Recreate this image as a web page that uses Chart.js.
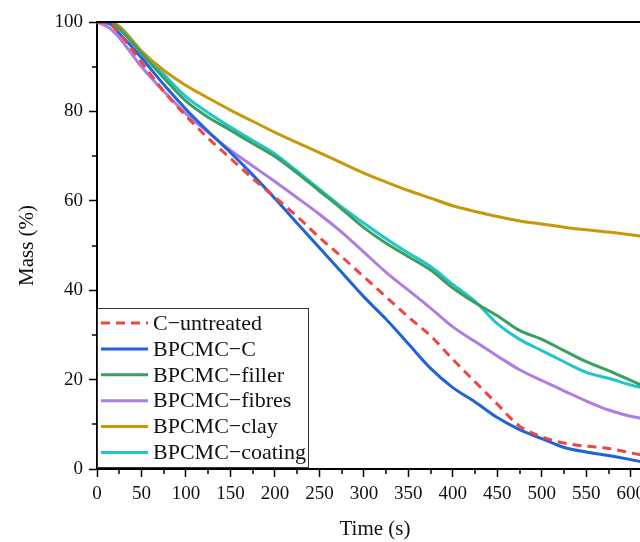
<!DOCTYPE html>
<html><head><meta charset="utf-8">
<script src="https://cdn.jsdelivr.net/npm/chart.js@4"></script>
<style>
html,body{margin:0;padding:0;background:#fff;overflow:hidden;width:640px;height:542px}
#wrap{position:absolute;left:0;top:0;width:660px;height:542px}
</style></head><body><div id="wrap"><canvas id="c" width="660" height="542"></canvas></div>
<script>
const times = [0,15,25,50,75,100,125,150,175,200,225,250,275,300,325,350,375,400,425,450,475,500,525,550,575,600,615];
const seriesLabels = ['C\u2212untreated','BPCMC\u2212C','BPCMC\u2212filler','BPCMC\u2212fibres','BPCMC\u2212clay','BPCMC\u2212coating'];
const cUntreated = [100,99.5,97.5,91,84.5,79,74,69.5,65,60.8,56.5,51.8,47.5,43,38.5,34,29.8,24.5,19.5,14.5,9.6,7.2,5.8,5.1,4.6,3.6,3];
const bpcmcC     = [100,99.5,97.5,92,86,80.5,75.5,70.8,65.8,60.5,55,49.5,44,38.5,33.5,28,22.5,18.2,15,11.5,8.8,6.8,4.8,3.8,3,2.1,1.5];
const bpcmcFiller= [100,100,98.5,93,87.5,82.3,78.7,75.8,72.8,69.9,66.2,62.2,58.2,54,50.5,47.5,44.5,40.5,37.2,34.3,31,29,26.5,24,22,19.8,18.5];
const bpcmcFibres= [100,98.5,96.5,90,84.5,79.5,75.3,71.3,67.8,64.3,60.7,57,53,48.5,44,40,36,31.8,28.5,25.3,22.2,19.8,17.5,15.2,13.2,11.8,11.2];
const bpcmcClay  = [100,100,99,93.5,89.2,85.8,83,80.3,77.8,75.3,73,70.8,68.5,66.2,64.2,62.3,60.6,58.9,57.6,56.5,55.5,54.8,54.1,53.5,53,52.4,52];
const bpcmcCoating=[100,100,99,93.5,88.3,83.3,79.7,76.5,73.5,70.5,66.6,62.6,58.6,55,51.5,48.3,45.3,41.3,37.5,32.5,29,26.5,24,21.6,20.3,18.8,18.1];
const xTicksMajor = [0,50,100,150,200,250,300,350,400,450,500,550,600];
const yTicksMajor = [0,20,40,60,80,100];

const colors = ['#f04444','#1f63d9','#3a9f62','#ad7ddf','#c8980c','#1fc6cc'];
const dashes = [[9,6],[],[],[],[],[]];
const values = [cUntreated,bpcmcC,bpcmcFiller,bpcmcFibres,bpcmcClay,bpcmcCoating];

const SERIF = '"Liberation Serif","Times New Roman",serif';

const datasets = values.map((v,i)=>({
  label: seriesLabels[i],
  data: times.map((t,j)=>({x:t,y:v[j]})),
  borderColor: colors[i],
  backgroundColor: colors[i],
  borderWidth: 3,
  borderDash: dashes[i],
  pointRadius: 0,
  cubicInterpolationMode: 'monotone',
  fill: false
}));

const extras = {
  id:'extras',
  afterDraw(chart){
    const {ctx, chartArea:a, scales:{x,y}} = chart;
    ctx.save();
    ctx.strokeStyle = '#000';
    ctx.lineWidth = 2;
    ctx.beginPath(); ctx.moveTo(a.left, a.top); ctx.lineTo(a.right, a.top); ctx.stroke();
    ctx.lineWidth = 1.5;
    for (let v=25; v<=x.max; v+=50){
      const px = Math.round(x.getPixelForValue(v));
      ctx.beginPath(); ctx.moveTo(px, a.bottom); ctx.lineTo(px, a.bottom+5); ctx.stroke();
    }
    for (let v=10; v<100; v+=20){
      const py = Math.round(y.getPixelForValue(v));
      ctx.beginPath(); ctx.moveTo(a.left, py); ctx.lineTo(a.left-5, py); ctx.stroke();
    }
    const bx = a.left, by = a.bottom - 161, bw = 211, bh = 159;
    ctx.fillStyle = '#fff';
    ctx.fillRect(bx, by, bw, bh);
    ctx.lineWidth = 1;
    ctx.strokeStyle = '#333';
    ctx.strokeRect(bx+0.5, by+0.5, bw, bh);
    ctx.font = '22px ' + SERIF;
    ctx.textBaseline = 'middle';
    ctx.textAlign = 'left';
    chart.data.datasets.forEach((ds,i)=>{
      const ry = by + 15 + i*25.9;
      ctx.strokeStyle = ds.borderColor;
      ctx.lineWidth = 3;
      ctx.setLineDash(ds.borderDash || []);
      ctx.beginPath(); ctx.moveTo(bx+4, ry); ctx.lineTo(bx+51, ry); ctx.stroke();
      ctx.setLineDash([]);
      ctx.fillStyle = '#111';
      ctx.fillText(ds.label, bx+56, ry+1);
    });
    ctx.restore();
  }
};

new Chart(document.getElementById('c'), {
  type: 'line',
  data: { datasets },
  plugins: [extras],
  options: {
    responsive: false,
    animation: false,
    devicePixelRatio: 1,
    layout: { padding: { top: 22, right: 7, left: 0, bottom: 0 } },
    plugins: { legend: { display: false }, tooltip: { enabled: false } },
    scales: {
      x: {
        type: 'linear', min: 0, max: 625,
        afterFit: s => { s.height = 73; },
        afterBuildTicks: s => { s.ticks = xTicksMajor.map(v=>({value:v})); },
        ticks: { color: '#111', font: { family: SERIF, size: 19 }, padding: 6, maxRotation: 0, autoSkip: false },
        grid: { display: true, drawOnChartArea: false, drawTicks: true, tickLength: 8, tickColor: '#000', tickWidth: 1.5 },
        border: { display: true, color: '#000', width: 2 },
        title: { display: true, text: 'Time (s)', color: '#111', font: { family: SERIF, size: 21 }, padding: { top: 0, bottom: 0 } }
      },
      y: {
        type: 'linear', min: 0, max: 100,
        afterFit: s => { s.width = 97; },
        afterBuildTicks: s => { s.ticks = yTicksMajor.map(v=>({value:v})); },
        ticks: { color: '#111', font: { family: SERIF, size: 19 }, padding: 6 },
        grid: { display: true, drawOnChartArea: false, drawTicks: true, tickLength: 8, tickColor: '#000', tickWidth: 1.5 },
        border: { display: true, color: '#000', width: 2 },
        title: { display: true, text: 'Mass (%)', color: '#111', font: { family: SERIF, size: 21 }, padding: { top: 15, bottom: 0 } }
      }
    }
  }
});
</script></body></html>
